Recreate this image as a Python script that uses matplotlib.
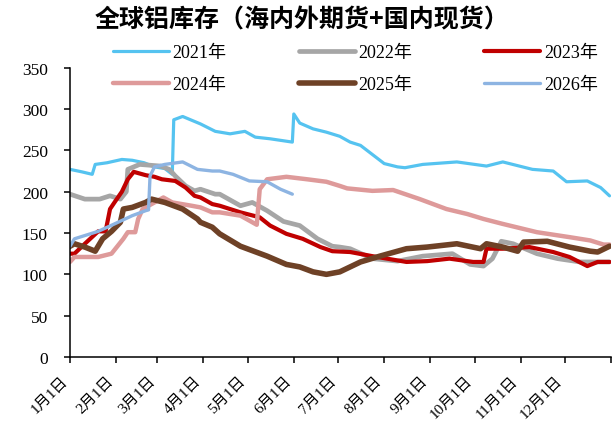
import matplotlib
matplotlib.use("Agg")
import matplotlib.pyplot as plt

plt.rcParams['font.family'] = ['Liberation Serif', 'Noto Sans CJK SC']
plt.rcParams['axes.unicode_minus'] = False

# day of year (0 = 1月1日) and inventory, 万吨
d2021 = [0, 8, 15, 17, 25, 35, 42, 50, 57, 64, 69, 70, 76, 88, 98, 108, 118, 125, 135, 150,
         151, 155, 164, 173, 182, 189, 196, 204, 212, 221, 226, 238, 261, 281, 292, 312, 326,
         335, 349, 358, 364]
v2021 = [227, 224, 221, 233, 235, 239, 238, 235, 230, 228, 221, 287, 291, 282, 273, 270, 273,
         266, 264, 260, 294, 283, 276, 272, 267, 260, 256, 245, 234, 230, 229, 233, 236, 231,
         236, 227, 225, 212, 213, 205, 195]

d2022 = [0, 10, 20, 27, 34, 38, 39, 47, 61, 67, 71, 78, 84, 88, 98, 101, 115, 123, 133, 144,
         155, 167, 177, 182, 189, 204, 221, 238, 258, 270, 279, 285, 291, 299, 315, 329, 344, 364]
v2022 = [197, 191, 191, 195, 191, 200, 227, 233, 231, 227, 219, 207, 201, 203, 197, 197, 183,
         187, 177, 164, 159, 143, 134, 133, 131, 119, 116, 122, 125, 112, 110, 119, 140, 137,
         125, 119, 115, 115]

d2023 = [0, 3, 10, 19, 24, 27, 30, 35, 39, 43, 51, 57, 62, 71, 78, 84, 88, 96, 101, 115, 128,
         135, 146, 157, 169, 177, 189, 204, 227, 241, 256, 272, 279, 281, 292, 310, 326, 337,
         349, 356, 364]
v2023 = [125, 125, 137, 152, 152, 179, 187, 200, 215, 224, 220, 218, 215, 213, 205, 195, 193,
         185, 183, 175, 169, 159, 149, 143, 133, 128, 127, 122, 115, 116, 119, 115, 115, 131,
         131, 133, 127, 121, 110, 115, 115]

d2024 = [0, 3, 19, 28, 32, 36, 39, 44, 46, 49, 53, 57, 63, 69, 82, 88, 96, 101, 115, 126, 128,
         133, 146, 160, 173, 182, 187, 204, 218, 236, 254, 268, 279, 292, 315, 337, 351, 360, 364]
v2024 = [115, 121, 121, 125, 134, 143, 151, 151, 167, 179, 183, 187, 193, 187, 183, 181, 175,
         175, 171, 160, 203, 215, 218, 215, 212, 207, 204, 201, 202, 191, 179, 173, 167, 161,
         151, 145, 141, 136, 136]

d2025 = [0, 3, 10, 17, 22, 28, 34, 36, 42, 51, 55, 64, 76, 86, 88, 96, 101, 115, 124, 133, 146,
         155, 164, 173, 182, 196, 209, 227, 241, 261, 277, 281, 292, 302, 306, 322, 337, 351,
         356, 364]
v2025 = [134, 137, 133, 128, 143, 152, 163, 179, 181, 187, 191, 187, 179, 167, 163, 157, 149,
         134, 128, 122, 112, 109, 103, 100, 103, 115, 122, 131, 133, 137, 131, 137, 133, 128,
         139, 140, 133, 128, 127, 134]

d2026 = [0, 3, 19, 30, 42, 51, 53, 54, 57, 64, 76, 86, 96, 101, 110, 121, 133, 142, 150]
v2026 = [134, 143, 152, 161, 171, 177, 178, 219, 230, 233, 236, 227, 225, 225, 221, 213, 212,
         203, 197]

series = [
    ('2021年', d2021, v2021, '#55C3F0', 2.3),
    ('2022年', d2022, v2022, '#A6A6A6', 3.4),
    ('2023年', d2023, v2023, '#C00000', 3.0),
    ('2024年', d2024, v2024, '#DE9A9A', 3.2),
    ('2025年', d2025, v2025, '#6E4126', 4.0),
    ('2026年', d2026, v2026, '#8DB4E2', 2.4),
]

month_days = [0, 31, 59, 90, 120, 151, 181, 212, 243, 273, 304, 334, 365]
month_labels = [f'{m}月1日' for m in range(1, 13)] + ['']

fig = plt.figure(figsize=(6.16, 4.27), dpi=100)
ax = fig.add_axes([70 / 616, 1 - 358 / 427, 541 / 616, 289.3 / 427])

lines = []
for name, d, v, c, lw in series:
    ln, = ax.plot(d, v, color=c, lw=lw, label=name, solid_capstyle='round',
                  solid_joinstyle='round')
    lines.append(ln)

ax.set_xlim(0, 365)
ax.set_ylim(0, 350)
ax.set_yticks(range(0, 351, 50))
ax.set_xticks(month_days)
ax.set_xticklabels(month_labels, rotation=45, ha='right', fontsize=11)
ax.tick_params(axis='y', labelsize=12.5, length=4, width=1.1, pad=12, direction='out')
ax.tick_params(axis='x', length=4, width=1.1, pad=8, direction='out')
for s in ['top', 'right']:
    ax.spines[s].set_visible(False)
for s in ['left', 'bottom']:
    ax.spines[s].set_linewidth(1.1)

fig.text(95 / 616, 1 - 20 / 427, '全球铝库存（海内外期货+国内现货）', fontsize=18,
         fontweight='bold', ha='left', va='center', family=['Noto Sans CJK SC'])

# legend fills column by column, so order the handles to read 2021-2023 on the first row
order = [0, 3, 1, 4, 2, 5]
fig.legend([lines[i] for i in order], [series[i][0] for i in order],
           loc='upper left', bbox_to_anchor=(113 / 616, 1 - 45 / 427), ncol=3, frameon=False,
           fontsize=13, handlelength=3.1, handletextpad=0.2, columnspacing=4.0,
           labelspacing=0.85, borderpad=0, borderaxespad=0)

fig.savefig('out.png', dpi=100)
